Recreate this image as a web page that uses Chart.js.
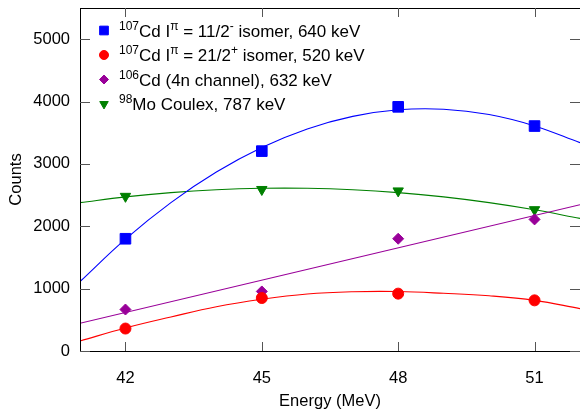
<!DOCTYPE html>
<html>
<head>
<meta charset="utf-8">
<script src="https://cdn.jsdelivr.net/npm/chart.js@4"></script>
<style>
html,body{margin:0;padding:0;background:#fff;}
#wrap{width:580px;height:411px;position:relative;}
</style>
</head>
<body>
<div id="wrap"><canvas id="c" width="580" height="411"></canvas></div>
<script>
// Measured points
const energies = [42, 45, 48, 51];
const cd107_640 = [1800, 3205, 3915, 3607];
const cd107_520 = [360, 850, 920, 812];
const cd106_632 = [665, 955, 1800, 2110];
const mo98_787 = [2480, 2590, 2567, 2266];

// Fit curves
const fitEnergies = [41, 42, 43, 44, 45, 46, 47, 48, 49, 50, 51, 52];
const fit640 = [1113, 1794, 2380, 2869, 3263, 3561, 3762, 3868, 3877, 3791, 3609, 3340];
const fit520 = [161, 369, 545, 710, 830, 915, 950, 953, 925, 885, 812, 680];
const fit787 = [2379, 2471, 2540, 2586, 2609, 2609, 2586, 2540, 2471, 2379, 2264, 2126];
const fitLineEnergies = [41, 52];
const fit632 = [445, 2345];

// Axis ticks
const xTicks = [42, 45, 48, 51];
const yTicks = [0, 1000, 2000, 3000, 4000, 5000];

// Legend texts (segments: [text, isSuperscript])
const legendTexts = [
  [["107", true], ["Cd I", false], ["\u03c0", true], [" = 11/2", false], ["-", true], [" isomer, 640 keV", false]],
  [["107", true], ["Cd I", false], ["\u03c0", true], [" = 21/2", false], ["+", true], [" isomer, 520 keV", false]],
  [["106", true], ["Cd (4n channel), 632 keV", false]],
  [["98", true], ["Mo Coulex, 787 keV", false]]
];

const FONT = '"Liberation Sans", Arial, Helvetica, sans-serif';
const BLUE = '#0000ff', RED = '#ff0000', PURPLE = '#990099', GREEN = '#008000';

const pts = (xs, ys) => xs.map((x, i) => ({x: x, y: ys[i]}));

const lineDs = (data, color) => ({
  type: 'line', data: data, borderColor: color, borderWidth: 1.1,
  pointRadius: 0, fill: false, tension: 0.4, order: 2
});
const markDs = (data, color, style, r, rot) => ({
  type: 'line', data: data, showLine: false, borderColor: color, backgroundColor: color,
  pointStyle: style, pointRadius: r, pointHoverRadius: r, pointBorderWidth: 1,
  pointRotation: rot || 0, order: 1
});

const markers = [
  {color: BLUE, style: 'rect', r: 7.5, rot: 0},
  {color: RED, style: 'circle', r: 5.5, rot: 0},
  {color: PURPLE, style: 'rectRot', r: 5.5, rot: 0},
  {color: GREEN, style: 'triangle', r: 6, rot: 180}
];

const framePlugin = {
  id: 'frame',
  afterDraw(chart) {
    const {ctx, chartArea} = chart;
    const {left, top, right, bottom} = chartArea;
    const xs = chart.scales.x, ys = chart.scales.y;
    ctx.save();
    ctx.strokeStyle = '#000';
    ctx.lineWidth = 1;
    ctx.strokeRect(left + 0.5, top + 0.5, right - left, bottom - top);
    ctx.strokeStyle = '#555';
    ctx.beginPath();
    xTicks.forEach(v => {
      const px = Math.round(xs.getPixelForValue(v)) + 0.5;
      ctx.moveTo(px, bottom); ctx.lineTo(px, bottom - 9);
      ctx.moveTo(px, top); ctx.lineTo(px, top + 9);
    });
    yTicks.forEach(v => {
      const py = Math.round(ys.getPixelForValue(v)) + 0.5;
      ctx.moveTo(left, py); ctx.lineTo(left + 10, py);
      ctx.moveTo(right, py); ctx.lineTo(right - 10, py);
    });
    ctx.stroke();

    // legend
    const lx = 104, ly0 = 30.5, dy = 24.5, tx = 119;
    legendTexts.forEach((segs, i) => {
      const m = markers[i];
      const cy = ly0 + i * dy;
      ctx.fillStyle = m.color; ctx.strokeStyle = m.color; ctx.lineWidth = 1;
      Chart.helpers.drawPoint(ctx, {pointStyle: m.style, radius: m.r * 0.82, rotation: m.rot, borderWidth: 1}, lx, cy);
      let x = tx;
      const base = cy + 6;
      ctx.fillStyle = '#000';
      ctx.textBaseline = 'alphabetic';
      ctx.textAlign = 'left';
      segs.forEach(([t, sup]) => {
        if (sup) {
          ctx.font = '12px ' + FONT;
          ctx.fillText(t, x, base - 7);
        } else {
          ctx.font = '17px ' + FONT;
          ctx.fillText(t, x, base);
        }
        x += ctx.measureText(t).width;
      });
    });
    ctx.restore();
  }
};

const zeroPad = s => { s.paddingLeft = 0; s.paddingRight = 0; s.paddingTop = 0; s.paddingBottom = 0; };

new Chart(document.getElementById('c'), {
  data: {
    datasets: [
      lineDs(pts(fitEnergies, fit640), BLUE),
      lineDs(pts(fitEnergies, fit520), RED),
      lineDs(pts(fitLineEnergies, fit632), PURPLE),
      lineDs(pts(fitEnergies, fit787), GREEN),
      markDs(pts(energies, cd107_640), BLUE, 'rect', 7.5),
      markDs(pts(energies, cd107_520), RED, 'circle', 5.5),
      markDs(pts(energies, cd106_632), PURPLE, 'rectRot', 5.5),
      markDs(pts(energies, mo98_787), GREEN, 'triangle', 6, 180)
    ]
  },
  options: {
    responsive: false,
    animation: false,
    layout: {autoPadding: false, padding: {top: 8, right: 0, left: 0, bottom: 0}},
    plugins: {legend: {display: false}, tooltip: {enabled: false}},
    scales: {
      x: {
        type: 'linear', min: 41, max: 52,
        grid: {display: false, drawTicks: false},
        border: {display: false},
        afterBuildTicks: s => { s.ticks = xTicks.map(v => ({value: v})); },
        afterFit: s => { s.height = 60; zeroPad(s); },
        ticks: {padding: 18, color: '#000', font: {family: FONT, size: 16.5}, callback: v => String(v)},
        title: {display: true, text: 'Energy (MeV)', color: '#000', font: {family: FONT, size: 16.5}, padding: {top: 0, bottom: 0}}
      },
      y: {
        type: 'linear', min: 0, max: 5500,
        grid: {display: false, drawTicks: false},
        border: {display: false},
        afterBuildTicks: s => { s.ticks = yTicks.map(v => ({value: v})); },
        afterFit: s => { s.width = 80; zeroPad(s); },
        ticks: {padding: 10, color: '#000', font: {family: FONT, size: 16.5}, callback: v => String(v)},
        title: {display: true, text: 'Counts', color: '#000', font: {family: FONT, size: 16.5}, padding: {top: 7, bottom: 0}}
      }
    }
  },
  plugins: [framePlugin]
});
</script>
</body>
</html>
